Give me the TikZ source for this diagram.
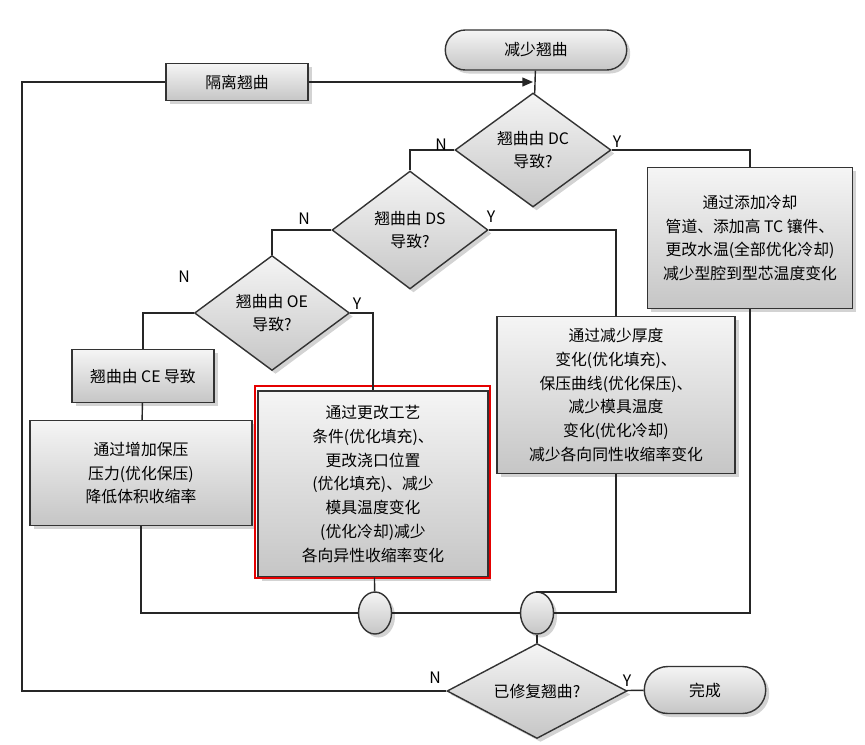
\documentclass[tikz,border=0pt]{standalone}
\usepackage{fontspec}
\setmainfont{Noto Sans CJK SC}
\usetikzlibrary{shapes.geometric,shapes.misc,shadows,arrows.meta}
\tikzset{
  base/.style={draw=black!80, thick, top color=gray!8, bottom color=gray!45,
    drop shadow={opacity=0.35, shadow xshift=2pt, shadow yshift=-2pt},
    font=\fontsize{9}{13.5}\selectfont, align=center, inner sep=1pt},
  box/.style={base, rectangle},
  term/.style={base, rounded rectangle, minimum width=3.7cm, minimum height=0.8cm},
  dec/.style={base, diamond, aspect=1.37, inner sep=0pt},
  merge/.style={base, ellipse, minimum width=0.66cm, minimum height=0.84cm},
  yn/.style={font=\fontsize{9}{10}\selectfont},
  line/.style={thick, black!85}
}
\begin{document}
\begin{tikzpicture}[x=0.02cm, y=-0.02cm]
\useasboundingbox (0,0) rectangle (865,744);
% Inicio
\node[term] (start) at (536,50) {减少翘曲};
\node[box, minimum width=2.84cm, minimum height=0.74cm] (iso) at (237,82) {隔离翘曲};
% Decisiones
\node[dec, minimum width=3.12cm, minimum height=2.28cm] (dc) at (533,150) {翘曲由 DC\\导致?};
\node[dec, minimum width=3.12cm, minimum height=2.36cm] (ds) at (410,230) {翘曲由 DS\\导致?};
\node[dec, minimum width=3.1cm, minimum height=2.3cm] (oe) at (272,313) {翘曲由 OE\\导致?};
% Cajas
\node[box, minimum width=4.1cm, minimum height=2.82cm] (b1) at (750,238)
  {通过添加冷却\\管道、添加高 TC 镶件、\\更改水温(全部优化冷却)\\减少型腔到型芯温度变化};
\node[box, minimum width=4.76cm, minimum height=3.14cm] (b2) at (616,395)
  {通过减少厚度\\变化(优化填充)、\\保压曲线(优化保压)、\\减少模具温度\\变化(优化冷却)\\减少各向同性收缩率变化};
\node[box, minimum width=2.84cm, minimum height=1.06cm] (ce) at (143,376) {翘曲由 CE 导致};
\node[box, minimum width=4.44cm, minimum height=2.1cm] (b4) at (141,473)
  {通过增加保压\\压力(优化保压)\\降低体积收缩率};
\node[box, minimum width=4.6cm, minimum height=3.72cm] (b3) at (373,484)
  {通过更改工艺\\条件(优化填充)、\\更改浇口位置\\(优化填充)、减少\\模具温度变化\\(优化冷却)减少\\各向异性收缩率变化};
\draw[red!90!black, line width=1.6pt] (255,386) rectangle (490,578);
% Uniones
\node[merge] (j1) at (375,613) {};
\node[merge] (j2) at (537,613) {};
\node[dec, minimum width=3.6cm, minimum height=1.9cm] (fix) at (537,691) {已修复翘曲?};
\node[term, minimum width=2.5cm, minimum height=0.94cm] (done) at (705,690) {完成};
% Conectores
\draw[line] (start) -- (dc);
\draw[line] (dc.east) -| (b1.north);
\draw[line] (dc.west) -| (ds.north);
\draw[line] (ds.east) -| (b2.north);
\draw[line] (ds.west) -| (oe.north);
\draw[line] (oe.east) -| (b3.north);
\draw[line] (oe.west) -| (ce.north);
\draw[line] (ce) -- (b4);
\draw[line] (b4.south) |- (j1.west);
\draw[line] (b3) -- (j1);
\draw[line] (j1) -- (j2);
\draw[line] (b2.south) |- (537,592) -- (j2.north);
\draw[line] (b1.south) |- (j2.east);
\draw[line] (j2) -- (fix);
\draw[line] (fix) -- (done);
\draw[line] (fix.west) -| (22,82) -- (iso.west);
\draw[line, -{Triangle[length=6pt,width=5pt]}] (iso.east) -- (533,82);
% Etiquetas
\node[yn] at (441,145) {N};
\node[yn] at (617,142) {Y};
\node[yn] at (304,219) {N};
\node[yn] at (491,217) {Y};
\node[yn] at (184,277) {N};
\node[yn] at (357,304) {Y};
\node[yn] at (435,678) {N};
\node[yn] at (627,681) {Y};
\end{tikzpicture}
\end{document}
